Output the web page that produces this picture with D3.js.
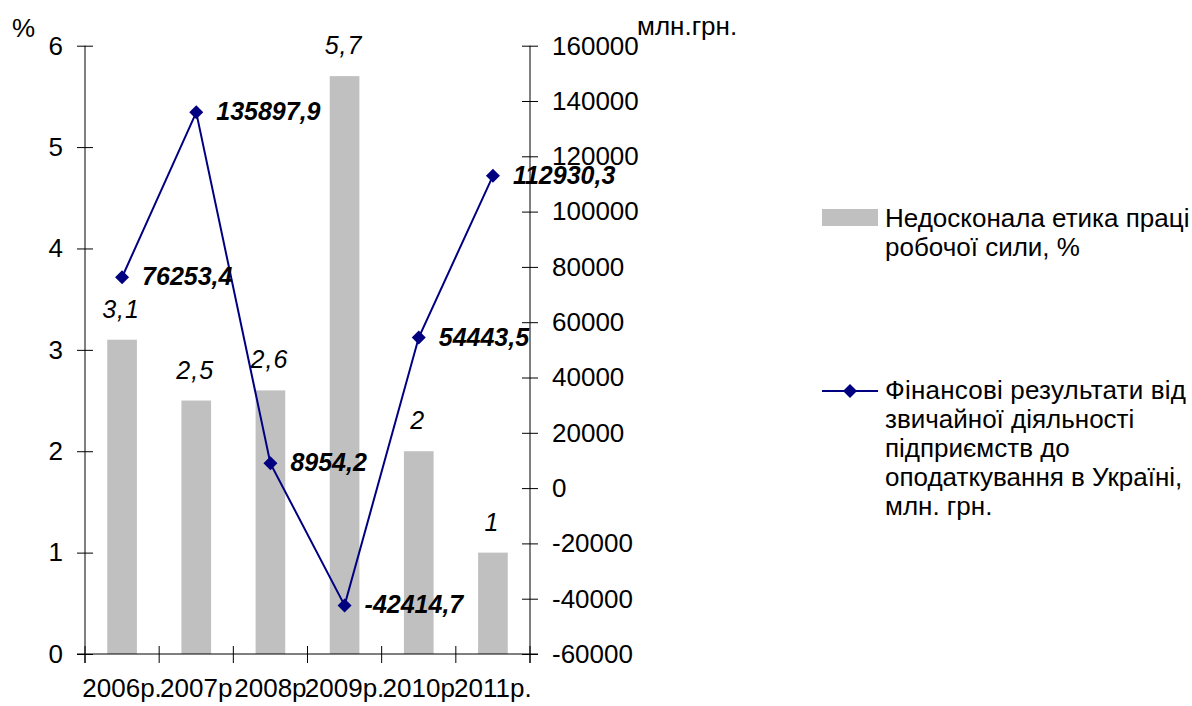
<!DOCTYPE html>
<html>
<head>
<meta charset="utf-8">
<script src="https://cdn.jsdelivr.net/npm/d3@7"></script>
<style>
  html, body { margin: 0; padding: 0; background: #fff; }
  svg { display: block; font-family: "Liberation Sans", Arial, sans-serif; }
</style>
</head>
<body>
<svg id="chart" width="1192" height="706"></svg>
<script>
const years = ["2006р.", "2007р", "2008р", "2009р.", "2010р", "2011р."];
const ethicsValues = [3.1, 2.5, 2.6, 5.7, 2, 1];
const ethicsLabels = ["3,1", "2,5", "2,6", "5,7", "2", "1"];
const financeValues = [76253.4, 135897.9, 8954.2, -42414.7, 54443.5, 112930.3];
const financeLabels = ["76253,4", "135897,9", "8954,2", "-42414,7", "54443,5", "112930,3"];
const leftTicks = [0, 1, 2, 3, 4, 5, 6];
const rightTicks = [-60000, -40000, -20000, 0, 20000, 40000, 60000, 80000, 100000, 120000, 140000, 160000];
const legendBarText = ["Недосконала етика праці", "робочої сили, %"];
const legendLineText = ["Фінансові результати від", "звичайної діяльності", "підприємств до", "оподаткування в Україні,", "млн. грн."];

const svg = d3.select("#chart");
const FS = 26;
const FSD = 25;
const pLeft = 85, pRight = 530, pTop = 45.7, pBottom = 654;

const xCat = d3.scaleBand().domain(years).range([pLeft, pRight]).padding(0);
const xBar = d3.scaleBand().domain(years).range([pLeft, pRight]).paddingInner(0.6).paddingOuter(0.3);
const yL = d3.scaleLinear().domain([0, 6]).range([pBottom, pTop]);
const yR = d3.scaleLinear().domain([-60000, 160000]).range([pBottom, pTop]);

// bars
svg.append("g").selectAll("rect").data(years).join("rect")
  .attr("x", d => xBar(d))
  .attr("y", (d, i) => yL(ethicsValues[i]))
  .attr("width", xBar.bandwidth())
  .attr("height", (d, i) => yL(0) - yL(ethicsValues[i]))
  .attr("fill", "#C0C0C0");

// bar labels
svg.append("g").selectAll("text").data(years).join("text")
  .attr("x", d => xBar(d) + xBar.bandwidth() / 2 - 1)
  .attr("y", (d, i) => yL(ethicsValues[i]) - 22)
  .attr("text-anchor", "middle")
  .attr("font-size", FSD)
  .attr("font-style", "italic")
  .attr("letter-spacing", 1)
  .attr("fill", "#000")
  .text((d, i) => ethicsLabels[i]);

// left axis
const gL = svg.append("g").attr("transform", `translate(${pLeft},0)`)
  .call(d3.axisLeft(yL).tickValues(leftTicks).tickSize(8).tickSizeOuter(0).tickPadding(14).tickFormat(d3.format("d")));
gL.selectAll(".tick line").attr("x1", -8).attr("x2", 8).attr("stroke", "#000");
gL.select(".domain").attr("stroke", "#000").attr("d", `M0,${pTop}V${pBottom + 9}`);
gL.selectAll("text").attr("font-size", FS).attr("font-family", "Liberation Sans, Arial, sans-serif").attr("fill", "#000");

// right axis
const gR = svg.append("g").attr("transform", `translate(${pRight},0)`)
  .call(d3.axisRight(yR).tickValues(rightTicks).tickSize(8).tickSizeOuter(0).tickPadding(14).tickFormat(d => String(d)));
gR.selectAll(".tick line").attr("x1", -8).attr("x2", 8).attr("stroke", "#000");
gR.select(".domain").attr("stroke", "#000").attr("d", `M0,${pTop}V${pBottom + 9}`);
gR.selectAll("text").attr("font-size", FS).attr("font-family", "Liberation Sans, Arial, sans-serif").attr("fill", "#000");

// x axis
const gX = svg.append("g").attr("transform", `translate(0,${pBottom})`)
  .call(d3.axisBottom(xCat).tickSize(0).tickPadding(25));
gX.select(".domain").attr("stroke", "#000").attr("d", `M${pLeft - 8},0H${pRight + 8}`);
gX.selectAll("text").attr("font-size", FS).attr("font-family", "Liberation Sans, Arial, sans-serif").attr("fill", "#000");
const bounds = years.map(d => xCat(d)).concat([xCat(years[years.length - 1]) + xCat.bandwidth()]);
gX.selectAll(".bound").data(bounds).join("line").attr("class", "bound")
  .attr("x1", d => d).attr("x2", d => d).attr("y1", -8).attr("y2", 9).attr("stroke", "#000");

// axis titles
svg.append("text").attr("x", 12).attr("y", 37).attr("font-size", FS).text("%");
svg.append("text").attr("x", 637).attr("y", 35).attr("font-size", FS).text("млн.грн.");

// line
const cx = (d, i) => xCat(years[i]) + xCat.bandwidth() / 2;
const line = d3.line().x((d, i) => cx(d, i)).y(d => yR(d));
svg.append("path").datum(financeValues).attr("d", line)
  .attr("fill", "none").attr("stroke", "#000080").attr("stroke-width", 2);

const diamond = (x, y, r) => `M${x},${y - r}L${x + r},${y}L${x},${y + r}L${x - r},${y}Z`;
svg.append("g").selectAll("path").data(financeValues).join("path")
  .attr("d", (d, i) => diamond(cx(d, i), yR(d), 7))
  .attr("fill", "#000080");

svg.append("g").selectAll("text").data(financeValues).join("text")
  .attr("x", (d, i) => cx(d, i) + 20)
  .attr("y", d => yR(d) + 8)
  .attr("font-size", FSD)
  .attr("font-style", "italic")
  .attr("font-weight", "bold")
  .attr("fill", "#000")
  .text((d, i) => financeLabels[i]);

// legend
const lg = svg.append("g");
lg.append("rect").attr("x", 822).attr("y", 209).attr("width", 56).attr("height", 17).attr("fill", "#C0C0C0");
lg.append("g").selectAll("text").data(legendBarText).join("text")
  .attr("x", 885).attr("y", (d, i) => 227 + i * 29).attr("font-size", FS).text(d => d);
lg.append("line").attr("x1", 822).attr("x2", 878).attr("y1", 391).attr("y2", 391)
  .attr("stroke", "#000080").attr("stroke-width", 2);
lg.append("path").attr("d", diamond(850, 391, 7)).attr("fill", "#000080");
const lt = lg.append("g").selectAll("text").data(legendLineText).join("text")
  .attr("x", 885).attr("y", (d, i) => 399 + i * 29).attr("font-size", FS)
  .text(d => d);
lt.filter((d, i) => i === 0).attr("textLength", 301).attr("lengthAdjust", "spacing");
</script>
</body>
</html>
